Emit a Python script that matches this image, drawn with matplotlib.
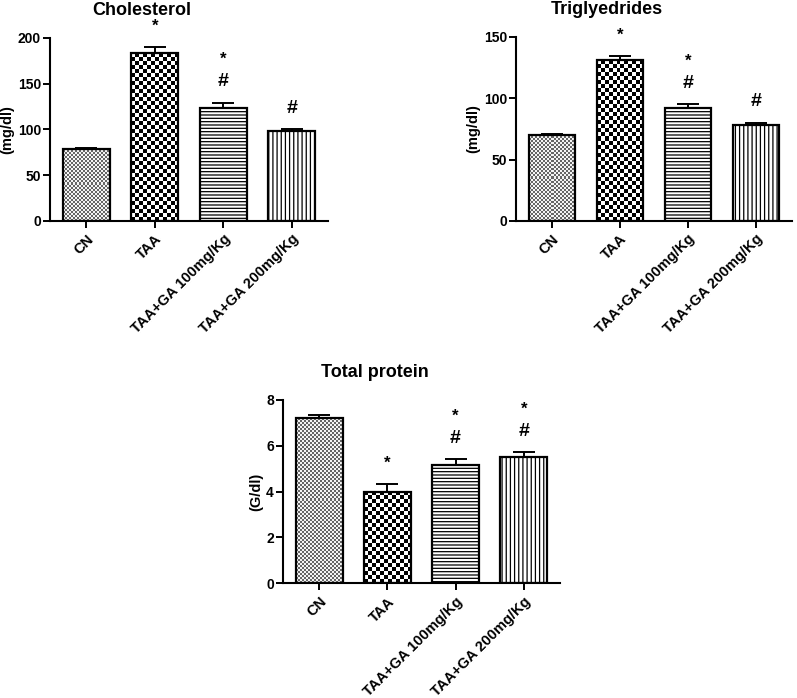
import numpy as np
import matplotlib
matplotlib.use("Agg")
import matplotlib.pyplot as plt
from matplotlib.colors import ListedColormap

plt.rcParams['font.family'] = ['Liberation Sans', 'DejaVu Sans']
plt.rcParams['font.weight'] = 'bold'
plt.rcParams['hatch.linewidth'] = 0.9

groups = ["CN", "TAA", "TAA+GA 100mg/Kg", "TAA+GA 200mg/Kg"]

chol_mean = [79, 183, 123, 98]
chol_err = [1, 7, 6, 2]
chol_star = [False, True, True, False]
chol_hash = [False, False, True, True]

trig_mean = [70, 131, 92, 78]
trig_err = [1, 3, 3, 2]
trig_star = [False, True, True, False]
trig_hash = [False, False, True, True]

prot_mean = [7.2, 4.0, 5.15, 5.53]
prot_err = [0.15, 0.35, 0.27, 0.18]
prot_star = [False, True, True, True]
prot_hash = [False, False, True, True]

W, H = 797, 698
fig = plt.figure(figsize=(W / 100, H / 100), dpi=100)


def checker(ax, bar, cell, colors):
    x0, y0 = bar.get_x(), bar.get_y()
    w, h = bar.get_width(), bar.get_height()
    p0 = ax.transData.transform((x0, y0))
    p1 = ax.transData.transform((x0 + w, y0 + h))
    nx = max(1, int(round((p1[0] - p0[0]) / cell)))
    ny = max(1, int(round((p1[1] - p0[1]) / cell)))
    grid = np.indices((ny, nx)).sum(axis=0) % 2
    im = ax.imshow(grid, extent=(x0, x0 + w, y0, y0 + h), origin='lower',
                   cmap=ListedColormap(colors), interpolation='nearest',
                   aspect='auto', zorder=1)
    im.set_clip_path(bar)


def panel(rect, title, ylabel, means, errs, stars, hashes, ymax, ystep):
    ax = fig.add_axes(rect)
    x = np.arange(len(groups))
    ax.set_xlim(-0.53, 3.53)
    ax.set_ylim(0, ymax)
    bars = ax.bar(x, means, width=0.69, facecolor='none', edgecolor='black',
                  linewidth=1.6, zorder=3)
    ax.errorbar(x, means, yerr=[np.zeros(len(errs)), errs], fmt='none',
                ecolor='black', elinewidth=1.4, capsize=8, capthick=1.4, zorder=2)
    checker(ax, bars[0], 2, ['#666666', '#f4f4f4'])
    checker(ax, bars[1], 4, ['black', 'white'])
    bars[2].set_hatch('-----')
    bars[3].set_hatch('||||')
    for i in range(len(groups)):
        top = means[i] + errs[i]
        if hashes[i]:
            ax.annotate("#", (x[i], top), xytext=(0, 15), textcoords='offset points',
                        ha='center', va='center', fontsize=14, fontweight='bold')
        if stars[i]:
            off = 31 if hashes[i] else 15
            ax.annotate("*", (x[i], top), xytext=(0, off), textcoords='offset points',
                        ha='center', va='center', fontsize=12, fontweight='bold')
    ax.set_xlim(-0.53, 3.53)
    ax.set_ylim(0, ymax)
    ax.set_yticks(np.arange(0, ymax + ystep / 2, ystep))
    ax.set_xticks(x)
    ax.set_xticklabels(groups, rotation=45, ha='right', rotation_mode='anchor',
                       fontsize=10.5, fontweight='bold')
    ax.tick_params(axis='y', labelsize=10, width=1.4, length=5, pad=1.5)
    ax.tick_params(axis='x', width=1.4, length=5, pad=3)
    for s in ['top', 'right']:
        ax.spines[s].set_visible(False)
    for s in ['left', 'bottom']:
        ax.spines[s].set_linewidth(1.5)
    ax.set_ylabel(ylabel, fontsize=10.5, fontweight='bold', labelpad=2.5)
    ax.text(0.33, 1.15, title, transform=ax.transAxes, ha='center', va='center',
            fontsize=13, fontweight='bold')
    return ax


panel([50 / W, 1 - 221 / H, 278 / W, 183.3 / H], "Cholesterol", "(mg/dl)",
      chol_mean, chol_err, chol_star, chol_hash, 200, 50)
panel([516 / W, 1 - 221 / H, 276 / W, 184.3 / H], "Triglyedrides", "(mg/dl)",
      trig_mean, trig_err, trig_star, trig_hash, 150, 50)
panel([283 / W, 1 - 583.3 / H, 277 / W, 183.3 / H], "Total protein", "(G/dl)",
      prot_mean, prot_err, prot_star, prot_hash, 8, 2)

fig.savefig("out.png", dpi=100)
